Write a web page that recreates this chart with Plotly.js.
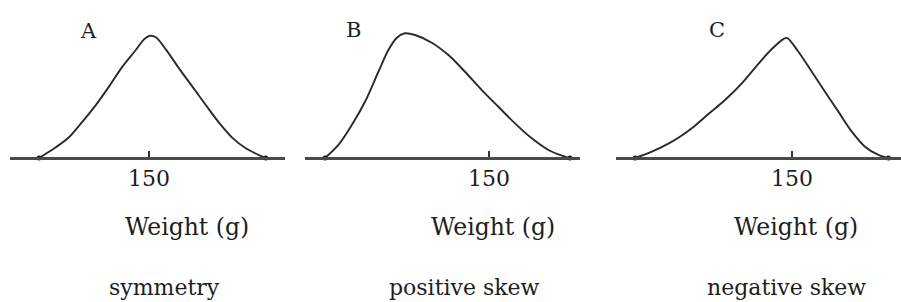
<!DOCTYPE html>
<html>
<head>
<meta charset="utf-8">
<script src="https://cdn.plot.ly/plotly-3.0.1.min.js"></script>
<style>
html, body { margin: 0; padding: 0; background: #ffffff; }
#chart { width: 901px; height: 302px; }
</style>
</head>
<body>
<div id="chart"></div>
<script>
// Panel letters and captions
var panelLetters = ["A", "B", "C"];
var panelCaptions = ["symmetry", "positive skew", "negative skew"];
var axisTitle = "Weight (g)";
var tickValues = [150];
var tickLabels = ["150"];

// Panel A: symmetric distribution (weight in g, relative frequency)
var weightA = [95, 103.4, 110, 115.9, 123.4, 130, 136.7, 143.4, 147.5, 150, 153.4, 158.4, 165, 171.7, 178.4, 185, 191.7, 198.4, 206.7, 208.4];
var freqA   = [0, 0.088, 0.170, 0.282, 0.434, 0.585, 0.749, 0.885, 0.972, 1.0, 0.990, 0.890, 0.735, 0.585, 0.434, 0.290, 0.165, 0.080, 0.011, 0];

// Panel B: positive skew
var weightB = [68, 74.7, 81.4, 88, 94.7, 99.7, 103.9, 108, 113, 121.4, 129.7, 138, 146.4, 154.7, 163, 171.4, 179.7, 188, 190.5];
var freqB   = [0, 0.107, 0.270, 0.461, 0.707, 0.885, 0.986, 1.022, 1.008, 0.945, 0.844, 0.707, 0.557, 0.420, 0.284, 0.161, 0.066, 0.011, 0];

// Panel C: negative skew
var weightC = [71.5, 79.9, 88.2, 94.9, 101.5, 108.2, 116.5, 124.9, 133.2, 139.9, 145.7, 147.5, 153.2, 159.9, 166.5, 173.2, 179.9, 186.5, 193.2, 198.2];
var freqC   = [0, 0.052, 0.118, 0.185, 0.265, 0.360, 0.475, 0.612, 0.772, 0.893, 0.975, 0.984, 0.871, 0.707, 0.543, 0.380, 0.216, 0.093, 0.025, 0];

var W = 901, H = 302;
var serif = "DejaVu Serif, Liberation Serif, serif";
var textColor = "#1e1e1e";

var series = [
  {x: weightA, y: freqA, ax: "x"},
  {x: weightB, y: freqB, ax: "x2"},
  {x: weightC, y: freqC, ax: "x3"}
];

var traces = [];
series.forEach(function (s) {
  traces.push({
    type: "scatter", mode: "lines", x: s.x, y: s.y, xaxis: s.ax, yaxis: "y",
    line: {color: "#2a2a2a", width: 1.9, shape: "spline", smoothing: 0.9},
    hoverinfo: "skip", showlegend: false
  });
  traces.push({
    type: "scatter", mode: "markers",
    x: [s.x[0], s.x[s.x.length - 1]], y: [s.y[0], s.y[s.y.length - 1]],
    xaxis: s.ax, yaxis: "y",
    marker: {color: "#111111", size: 5},
    hoverinfo: "skip", showlegend: false
  });
});

var axisPos = (H - 158) / H;
function xAxis(domainPx, rangeG) {
  return {
    domain: [domainPx[0] / W, domainPx[1] / W],
    range: rangeG,
    anchor: "free",
    position: axisPos,
    showline: true, linecolor: "#4a4a4a", linewidth: 3,
    showgrid: false, zeroline: false,
    tickmode: "array", tickvals: tickValues, ticktext: tickLabels,
    ticks: "inside", ticklen: 6, tickwidth: 1.5, tickcolor: "#333333",
    tickfont: {family: serif, size: 22, color: textColor},
    fixedrange: true
  };
}

function px(xp, yp) { return {x: xp / W, y: 1 - yp / H}; }

var annotations = [];
var letterPos = [[88, 31], [353, 30], [717, 30]];
var titlePos = [[187, 227], [493, 227], [796, 227]];
var capPos = [[164, 287], [465, 287], [786, 287]];
for (var i = 0; i < 3; i++) {
  var p = px(letterPos[i][0], letterPos[i][1]);
  annotations.push({text: panelLetters[i], x: p.x, y: p.y, xref: "paper", yref: "paper",
    xanchor: "center", yanchor: "middle", showarrow: false,
    font: {family: serif, size: 21, color: textColor}});
  p = px(titlePos[i][0], titlePos[i][1]);
  annotations.push({text: axisTitle, x: p.x, y: p.y, xref: "paper", yref: "paper",
    xanchor: "center", yanchor: "middle", showarrow: false,
    font: {family: serif, size: 23.5, color: textColor}});
  p = px(capPos[i][0], capPos[i][1]);
  annotations.push({text: panelCaptions[i], x: p.x, y: p.y, xref: "paper", yref: "paper",
    xanchor: "center", yanchor: "middle", showarrow: false,
    font: {family: serif, size: 22, color: textColor}});
}

var layout = {
  width: W, height: H,
  margin: {l: 0, r: 0, t: 0, b: 0, pad: 0},
  paper_bgcolor: "#ffffff", plot_bgcolor: "rgba(0,0,0,0)",
  showlegend: false,
  xaxis: xAxis([10, 285], [80.5, 218]),
  xaxis2: xAxis([305, 580], [58, 195.5]),
  xaxis3: xAxis([616, 901], [62, 204.5]),
  yaxis: {domain: [0, 1], range: [-1.180, 1.295], visible: false, fixedrange: true, anchor: "x"},
  annotations: annotations
};

Plotly.newPlot("chart", traces, layout, {staticPlot: true, displayModeBar: false});
</script>
</body>
</html>
